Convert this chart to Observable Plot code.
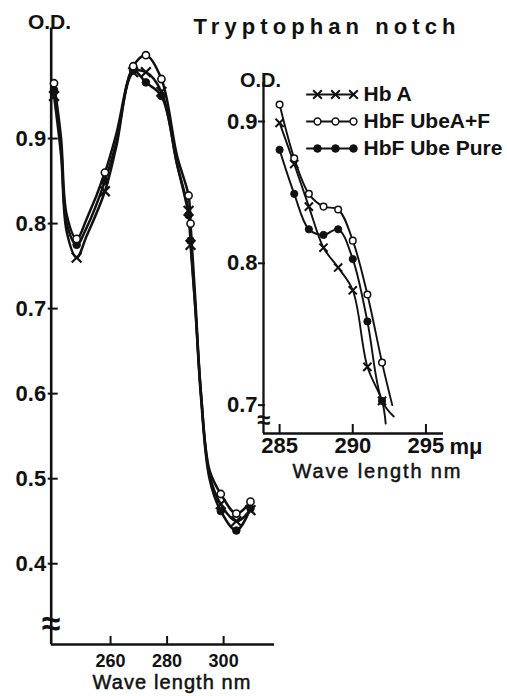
<!DOCTYPE html>
<html><head><meta charset="utf-8">
<script src="https://cdn.jsdelivr.net/npm/d3@7"></script>
<script src="https://cdn.jsdelivr.net/npm/@observablehq/plot@0.6"></script>
<style>
html,body{margin:0;padding:0;background:#fff;}
#wrap{position:relative;width:507px;height:696px;overflow:hidden;background:#fff;}
#wrap svg{position:absolute;max-width:none;}
</style></head><body><div id="wrap"></div>
<script>
// ---------- data ----------
const series = ["Hb A", "HbF UbeA+F", "HbF Ube Pure"];

// main chart (nm)
const mainWavelengths = [240, 242.5, 244.5, 248, 251.5, 258, 262, 268, 272.5, 278, 283.5, 287.6, 288.3, 290, 292, 295, 299, 304.5, 309.5];
const mainHbA  = [0.950, 0.880, 0.790, 0.760, 0.785, 0.838, 0.890, 0.978, 0.978, 0.955, 0.870, 0.815, 0.775, 0.700, 0.600, 0.505, 0.470, 0.450, 0.463];
const mainAF   = [0.965, 0.900, 0.810, 0.782, 0.805, 0.860, 0.905, 0.985, 0.998, 0.970, 0.880, 0.833, 0.800, 0.710, 0.600, 0.510, 0.482, 0.459, 0.473];
const mainPure = [0.957, 0.890, 0.800, 0.775, 0.795, 0.850, 0.895, 0.980, 0.966, 0.950, 0.870, 0.810, 0.780, 0.700, 0.595, 0.500, 0.462, 0.439, 0.465];
const mainMarkerWavelengths = [240, 248, 258, 268, 272.5, 278, 287.6, 288.3, 299, 304.5, 309.5];
const mainXTicks = [260, 280, 300];
const mainYTicks = [0.4, 0.5, 0.6, 0.7, 0.8, 0.9];

// inset (mμ)
const insetWavelengths = [285, 286, 287, 288, 289, 290, 291, 292];
const insetHbA  = [0.899, 0.870, 0.840, 0.811, 0.797, 0.781, 0.727, 0.703];
const insetAF   = [0.912, 0.874, 0.849, 0.840, 0.838, 0.816, 0.778, 0.730];
const insetPure = [0.880, 0.849, 0.824, 0.820, 0.824, 0.803, 0.759, 0.703];
// where each traced line ends (beyond its last marker)
const insetTailWavelength = [292.25, 292.7, 292.8];
const insetTailOD = [0.687, 0.700, 0.692];
const insetXTicks = [285, 290, 295];
const insetYTicks = [0.7, 0.8, 0.9];

const titleText = "Tryptophan notch";
const xLabelText = "Wave length nm";

// ---------- build tables ----------
const mainValues = [mainHbA, mainAF, mainPure];
const mainRows = series.flatMap((s, k) => mainWavelengths.map((wl, i) => ({series: s, wl, od: mainValues[k][i]})));
const mainMarkers = mainRows.filter(d => mainMarkerWavelengths.includes(d.wl));

const insetValues = [insetHbA, insetAF, insetPure];
const insetMarkers = series.flatMap((s, k) => insetWavelengths.map((wl, i) => ({series: s, wl, od: insetValues[k][i]})));
const insetRows = series.flatMap((s, k) => [
  ...insetWavelengths.map((wl, i) => ({series: s, wl, od: insetValues[k][i]})),
  {series: s, wl: insetTailWavelength[k], od: insetTailOD[k]}
]);

const INK = "#111";
const FONT = "Liberation Sans, Arial, Helvetica, sans-serif";
const W = 507, H = 696;

function markerMarks(rows, sz, xs, ys) {
  return [
    Plot.dot(rows.filter(d => d.series === series[2]), {x: xs, y: ys, r: sz.fill, fill: INK, stroke: INK, strokeWidth: 1}),
    Plot.dot(rows.filter(d => d.series === series[0]), {x: xs, y: ys, r: sz.cross, symbol: "times", fill: "none", stroke: INK, strokeWidth: sz.crossW}),
    Plot.dot(rows.filter(d => d.series === series[1]), {x: xs, y: ys, r: sz.open, fill: "white", stroke: INK, strokeWidth: sz.openW})
  ];
}

// ---------- main chart ----------
const mX = [239, 318], mY = [0.305, 1.03];
const mML = 50.7, mMR = 233, mMT = 27.5, mMB = 52;
const kx = (W - mML - mMR) / (mX[1] - mX[0]);
const ky = (H - mMT - mMB) / (mY[1] - mY[0]);

const mainPlot = Plot.plot({
  width: W, height: H,
  marginLeft: mML, marginRight: mMR, marginTop: mMT, marginBottom: mMB,
  x: {domain: mX, axis: null}, y: {domain: mY, axis: null},
  style: {background: "transparent", fontFamily: FONT, color: INK, overflow: "visible"},
  marks: [
    Plot.ruleX([mX[0]], {stroke: INK, strokeWidth: 2.6}),
    Plot.ruleY([mY[0]], {stroke: INK, strokeWidth: 2.6}),
    Plot.ruleY(mainYTicks, {x1: mX[0] - 3 / kx, x2: mX[0] + 7 / kx, stroke: INK, strokeWidth: 2}),
    Plot.ruleX(mainXTicks, {y1: mY[0], y2: mY[0] + 8 / ky, stroke: INK, strokeWidth: 2}),
    Plot.text(mainYTicks, {y: d => d, text: d => d.toFixed(1), frameAnchor: "left", dx: -5, textAnchor: "end", fontSize: 22, fontWeight: "bold", fill: INK}),
    Plot.text(mainXTicks, {x: d => d, text: d => String(d), frameAnchor: "bottom", dy: 10, lineAnchor: "top", textAnchor: "middle", fontSize: 18, fontWeight: "bold", fill: INK}),
    Plot.text(["≈"], {x: mX[0], y: 0.329, fontSize: 34, fontWeight: "bold", fill: INK}),
    Plot.line(mainRows, {x: "wl", y: "od", z: "series", curve: "catmull-rom", stroke: INK, strokeWidth: 2.5}),
    ...markerMarks(mainMarkers, {fill: 3.8, cross: 4.5, crossW: 2.2, open: 3.6, openW: 1.6}, "wl", "od"),
    Plot.text(["O.D."], {frameAnchor: "top-left", dx: -1.7, dy: 0.5, lineAnchor: "bottom", textAnchor: "middle", fontSize: 21, fontWeight: "bold", fill: INK}),
    Plot.text([titleText], {frameAnchor: "top-left", dx: 193 - mML, dy: 33 - mMT, lineAnchor: "bottom", textAnchor: "start", fontSize: 22, fontWeight: "bold", fill: INK}),
    Plot.text([xLabelText], {frameAnchor: "bottom-left", dx: 171 - mML, dy: 44, lineAnchor: "bottom", textAnchor: "middle", fontSize: 20, fill: INK, stroke: INK, strokeWidth: 0.5})
  ]
});

// ---------- inset ----------
const iX = [283.9, 296.2], iY = [0.68, 0.9275];
const iML = 263, iMR = 64, iMT = 82, iMB = 263;
const ikx = (W - iML - iMR) / (iX[1] - iX[0]);
const iky = (H - iMT - iMB) / (iY[1] - iY[0]);

const insetPlot = Plot.plot({
  width: W, height: H,
  marginLeft: iML, marginRight: iMR, marginTop: iMT, marginBottom: iMB,
  x: {domain: iX, axis: null}, y: {domain: iY, axis: null},
  style: {background: "transparent", fontFamily: FONT, color: INK, overflow: "visible"},
  marks: [
    Plot.ruleX([iX[0]], {stroke: INK, strokeWidth: 2.3}),
    Plot.ruleY([iY[0]], {stroke: INK, strokeWidth: 2.3}),
    Plot.ruleY(insetYTicks, {x1: iX[0] - 5 / ikx, x2: iX[0] + 2 / ikx, stroke: INK, strokeWidth: 2}),
    Plot.ruleX(insetXTicks, {y1: iY[0], y2: iY[0] + 9 / iky, stroke: INK, strokeWidth: 2}),
    Plot.text(insetYTicks, {y: d => d, text: d => d.toFixed(1), frameAnchor: "left", dx: -6, textAnchor: "end", fontSize: 22, fontWeight: "bold", fill: INK}),
    Plot.text(insetXTicks, {x: d => d, text: d => String(d), frameAnchor: "bottom", dy: 4, lineAnchor: "top", textAnchor: "middle", fontSize: 22, fontWeight: "bold", fill: INK}),
    Plot.text(["≈"], {x: iX[0], y: 0.6895, fontSize: 24, fontWeight: "bold", fill: INK}),
    Plot.line(insetRows, {x: "wl", y: "od", z: "series", curve: "catmull-rom", stroke: INK, strokeWidth: 1.9}),
    ...markerMarks(insetMarkers, {fill: 3.6, cross: 3.8, crossW: 2, open: 3.3, openW: 1.5}, "wl", "od"),
    Plot.text(["O.D."], {frameAnchor: "top-left", dx: -3, dy: 4, lineAnchor: "bottom", textAnchor: "middle", fontSize: 20, fontWeight: "bold", fill: INK}),
    Plot.text(["mμ"], {frameAnchor: "bottom-right", dx: 6, dy: 20, lineAnchor: "bottom", textAnchor: "start", fontSize: 22, fontWeight: "bold", fill: INK}),
    Plot.text([xLabelText], {frameAnchor: "bottom-left", dx: 376 - iML, dy: 44, lineAnchor: "bottom", textAnchor: "middle", fontSize: 20, fill: INK, stroke: INK, strokeWidth: 0.5})
  ]
});

// ---------- legend ----------
const legendSamples = [0, 1, 2];
const legendRows = series.flatMap(s => legendSamples.map(k => ({series: s, k})));
const legendPlot = Plot.plot({
  width: 207, height: 84, margin: 0,
  x: {domain: [0, 2], range: [17, 53], axis: null},
  y: {type: "point", domain: series, range: [15, 70], padding: 0, axis: null},
  style: {background: "transparent", fontFamily: FONT, color: INK, overflow: "visible"},
  marks: [
    Plot.ruleY(series, {y: d => d, x1: -0.6, x2: 2, stroke: INK, strokeWidth: 2}),
    ...markerMarks(legendRows, {fill: 3.8, cross: 4, crossW: 2, open: 3.4, openW: 1.5}, "k", "series"),
    Plot.text(series, {x: 2, y: d => d, dx: 10, text: d => d, textAnchor: "start", fontSize: 21, fontWeight: "bold", fill: INK})
  ]
});

const wrap = document.getElementById("wrap");
[mainPlot, insetPlot].forEach(p => { p.style.left = "0px"; p.style.top = "0px"; wrap.appendChild(p); });
legendPlot.style.left = "300px"; legendPlot.style.top = "78px";
wrap.appendChild(legendPlot);

function fit(svg, content, len) {
  svg.querySelectorAll("text").forEach(t => {
    if (t.textContent === content) {
      t.setAttribute("textLength", len);
      t.setAttribute("lengthAdjust", "spacing");
    }
  });
}
fit(mainPlot, titleText, 262);
fit(mainPlot, xLabelText, 158);
fit(insetPlot, xLabelText, 168);
</script></body></html>
